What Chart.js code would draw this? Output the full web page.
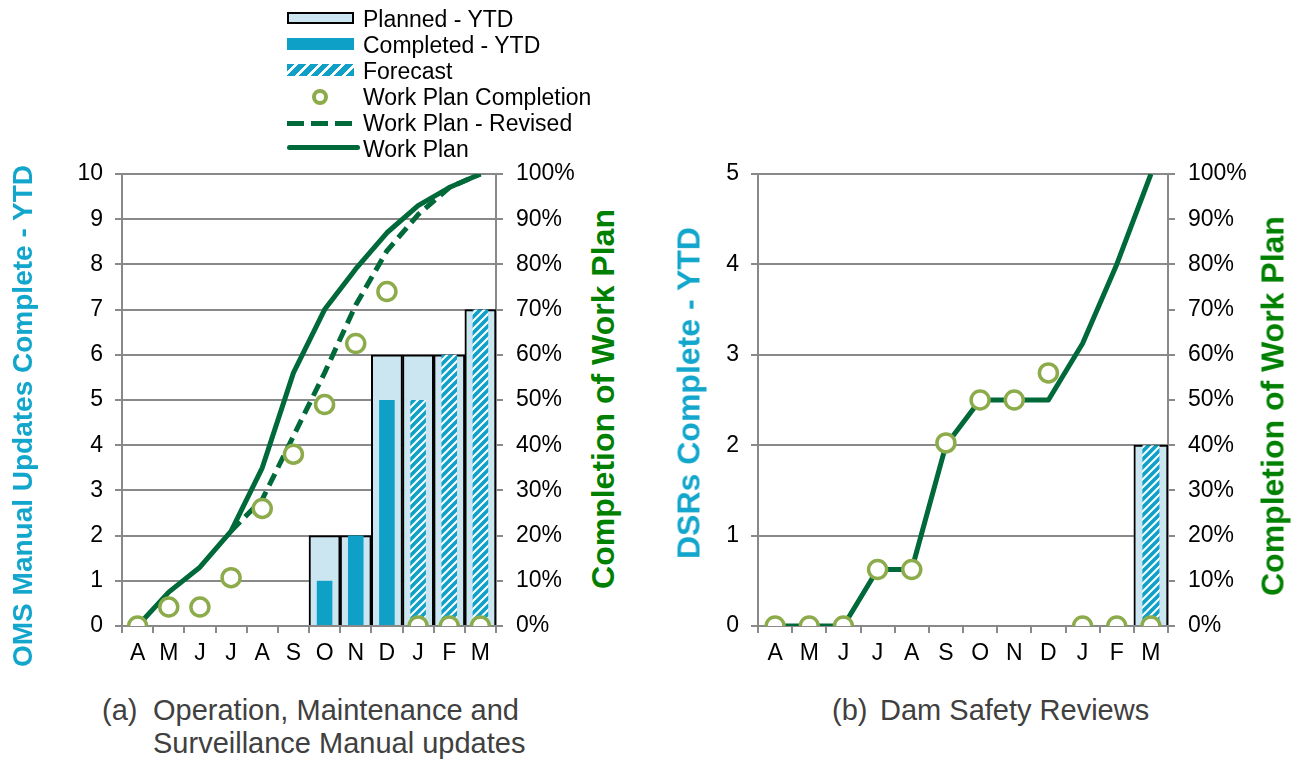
<!DOCTYPE html>
<html>
<head>
<meta charset="utf-8">
<script src="https://cdn.jsdelivr.net/npm/chart.js@4/dist/chart.umd.min.js"></script>
<style>
  body { margin: 0; background: #fff; font-family: 'Liberation Sans', Arial, sans-serif; }
  #wrap { position: relative; width: 1302px; height: 761px; overflow: hidden; }
  canvas { position: absolute; }
  .ttl { position: absolute; font-weight: bold; white-space: nowrap; transform: translate(-50%, -50%) rotate(-90deg); }
  .lg { position: absolute; left: 284px; top: 6px; font-size: 23px; line-height: 26px; }
  .row { position: relative; height: 26px; padding-left: 79px; white-space: nowrap; }
  .sym { position: absolute; left: 3px; top: 6px; width: 67px; height: 12px; box-sizing: border-box; }
  .cap { position: absolute; font-size: 29px; line-height: 33px; color: #404040; white-space: nowrap; }
</style>
</head>
<body>
<div id="wrap">
  <canvas id="omsChart" width="580" height="526" style="left:0;top:146px"></canvas>
  <canvas id="dsrChart" width="560" height="526" style="left:700px;top:146px"></canvas>

  <div class="lg">
    <div class="row"><div class="sym" style="background:#cbe6f1;border:2px solid #000"></div>Planned - YTD</div>
    <div class="row"><div class="sym" style="background:#0fa0c8"></div>Completed - YTD</div>
    <div class="row"><div class="sym" style="background:repeating-linear-gradient(135deg,#0fa0c8 0 5.5px,#fff 5.5px 8.3px)"></div>Forecast</div>
    <div class="row"><div class="sym" style="left:28px;top:5px;width:16px;height:16px;border:4px solid #8cab4a;border-radius:50%"></div>Work Plan Completion</div>
    <div class="row"><div class="sym" style="top:11px;height:5px;background:repeating-linear-gradient(90deg,#00693a 0 17px,transparent 17px 24px)"></div>Work Plan - Revised</div>
    <div class="row"><div class="sym" style="top:9px;width:73px;height:5px;border-radius:3px;background:#00693a"></div>Work Plan</div>
  </div>

  <div class="ttl" style="left:23px;top:416px;font-size:28px;color:#12a6cc">OMS Manual Updates Complete - YTD</div>
  <div class="ttl" style="left:603px;top:399px;font-size:32px;color:#008000">Completion of Work Plan</div>
  <div class="ttl" style="left:689px;top:393px;font-size:32px;color:#12a6cc">DSRs Complete - YTD</div>
  <div class="ttl" style="left:1273px;top:406px;font-size:32px;color:#008000">Completion of Work Plan</div>

  <div class="cap" style="left:102px;top:694px">(a)</div>
  <div class="cap" style="left:153px;top:694px">Operation, Maintenance and<br>Surveillance Manual updates</div>
  <div class="cap" style="left:832px;top:694px">(b)</div>
  <div class="cap" style="left:880px;top:694px">Dam Safety Reviews</div>
</div>

<script>
// data
const months = ['A', 'M', 'J', 'J', 'A', 'S', 'O', 'N', 'D', 'J', 'F', 'M'];

// (a) OMS manual updates - counts
const omsPlanned   = [null, null, null, null, null, null, 2, 2, 6, 6, 6, 7];
const omsCompleted = [null, null, null, null, null, null, 1, 2, 5, null, null, null];
const omsForecast  = [null, null, null, null, null, null, null, null, null, 5, 6, 7];
// (a) percentages
const omsPlanDone  = [0, 4.2, 4.2, 10.7, 26, 38, 49, 62.5, 74, 0, 0, 0];
const omsRevised   = [null, null, null, 21, 28, 42, 56, 71, 83, 91, 97, 100];
const omsWorkPlan  = [0, 7.5, 13, 21, 35, 56, 70, 79, 87, 93, 97, 100];

// (b) dam safety reviews
const dsrPlanned   = [null, null, null, null, null, null, null, null, null, null, null, 2];
const dsrForecast  = [null, null, null, null, null, null, null, null, null, null, null, 2];
const dsrPlanDone  = [0, 0, 0, 12.5, 12.5, 40.5, 50, 50, 56, 0, 0, 0];
const dsrWorkPlan  = [0, 0, 0, 12.5, 12.5, 40, 50, 50, 50, 62.5, 80, 100];

const BLUE = '#0fa0c8';
const PALE = '#cbe6f1';
const GREEN = '#00693a';
const OLIVE = '#8cab4a';
const GRID = '#898989';

Chart.defaults.font.family = "'Liberation Sans', Arial, sans-serif";
Chart.defaults.font.size = 23;
Chart.defaults.color = '#000';

function hatch(ctx) {
  const c = document.createElement('canvas');
  c.width = 8; c.height = 8;
  const g = c.getContext('2d');
  g.fillStyle = BLUE;
  g.fillRect(0, 0, 8, 8);
  g.strokeStyle = '#fff';
  g.lineWidth = 2;
  g.beginPath();
  g.moveTo(-2, 10); g.lineTo(10, -2);
  g.moveTo(-2, 2); g.lineTo(2, -2);
  g.moveTo(6, 10); g.lineTo(10, 6);
  g.stroke();
  return ctx.createPattern(c, 'repeat');
}

function barSet(data, fill, pct, order, border) {
  return {
    type: 'bar', data: data, yAxisID: 'y', grouped: false, order: order,
    backgroundColor: fill, borderColor: '#000', borderWidth: border ? 2 : 0,
    barPercentage: pct, categoryPercentage: 1
  };
}

function lineSet(data, dash) {
  return {
    type: 'line', data: data, yAxisID: 'y1', order: 1,
    borderColor: GREEN, borderWidth: 5, borderDash: dash, pointRadius: 0,
    tension: 0, fill: false, borderCapStyle: 'butt', borderJoinStyle: 'round'
  };
}

function dotSet(data) {
  return {
    type: 'line', data: data, yAxisID: 'y1', order: 0, showLine: false,
    pointRadius: 9, pointBorderWidth: 3.5, pointBorderColor: OLIVE,
    pointBackgroundColor: '#fff', borderColor: OLIVE, backgroundColor: '#fff'
  };
}

function makeOptions(yMax, leftW, rightW) {
  return {
    responsive: false,
    animation: false,
    layout: { padding: { top: 28, left: 0, right: 0, bottom: 0 } },
    plugins: { legend: { display: false }, tooltip: { enabled: false } },
    scales: {
      x: {
        offset: true,
        grid: { offset: true, drawOnChartArea: false, drawTicks: true, tickLength: 7, color: GRID, lineWidth: 2 },
        border: { display: true, color: GRID, width: 2 },
        ticks: { padding: 7, maxRotation: 0, autoSkip: false },
        afterFit: s => { s.height = 46; }
      },
      y: {
        position: 'left', min: 0, max: yMax,
        ticks: { stepSize: 1, padding: 12 },
        grid: { color: GRID, lineWidth: 2, tickLength: 7 },
        border: { display: true, color: GRID, width: 2 },
        afterFit: s => { s.width = leftW; }
      },
      y1: {
        position: 'right', min: 0, max: 100,
        ticks: { stepSize: 10, padding: 13, callback: v => v + '%' },
        grid: { drawOnChartArea: false, color: GRID, lineWidth: 2, tickLength: 7 },
        border: { display: true, color: GRID, width: 2 },
        afterFit: s => { s.width = rightW; }
      }
    }
  };
}

// Render (a)
const ctxA = document.getElementById('omsChart').getContext('2d');
new Chart(ctxA, {
  type: 'bar',
  data: {
    labels: months,
    datasets: [
      barSet(omsPlanned, PALE, 1, 3, true),
      barSet(omsCompleted, BLUE, 0.5, 2, false),
      barSet(omsForecast, hatch(ctxA), 0.5, 2, false),
      dotSet(omsPlanDone),
      lineSet(omsRevised, [13, 7]),
      lineSet(omsWorkPlan, [])
    ]
  },
  options: makeOptions(10, 122, 84)
});

// Render (b)
const ctxB = document.getElementById('dsrChart').getContext('2d');
new Chart(ctxB, {
  type: 'bar',
  data: {
    labels: months,
    datasets: [
      barSet(dsrPlanned, PALE, 1, 3, true),
      barSet(dsrForecast, hatch(ctxB), 0.5, 2, false),
      dotSet(dsrPlanDone),
      lineSet(dsrWorkPlan, [])
    ]
  },
  options: makeOptions(5, 58, 92)
});
</script>
</body>
</html>
